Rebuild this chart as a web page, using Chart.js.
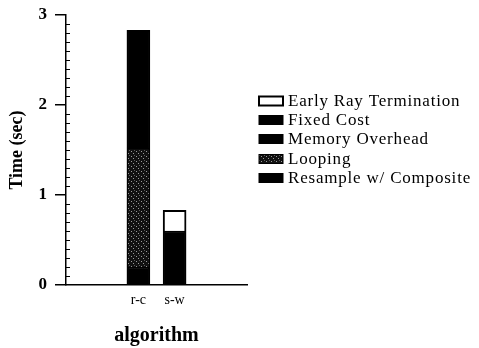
<!DOCTYPE html>
<html>
<head>
<meta charset="utf-8">
<script src="https://cdn.jsdelivr.net/npm/chart.js@4/dist/chart.umd.min.js"></script>
<style>
  html, body { margin: 0; padding: 0; background: #fff; }
  #wrap { width: 479px; height: 348px; }
</style>
</head>
<body>
<div id="wrap"><canvas id="c" width="479" height="348"></canvas></div>
<script>
// Category slots along the x axis; only two hold an algorithm.
const categories = ['', '', 'r-c', 's-w', '', ''];

// Execution time components (seconds), stacked bottom to top.
const resampleComposite = [null, null, 0.20, 0.60, null, null];
const looping           = [null, null, 1.32, 0.00, null, null];
const memoryOverhead    = [null, null, 1.31, 0.00, null, null];
const fixedCost         = [null, null, 0.00, 0.00, null, null];
const earlyRayTerm      = [null, null, 0.00, 0.23, null, null];

// Y axis tick values (major ticks labelled, minor every tenth)
const majorTicks = [0, 1, 2, 3];

const SERIF = '"Liberation Serif", "Times New Roman", serif';

// Stippled fill for the looping component
function makeStipple() {
  const p = document.createElement('canvas');
  p.width = 5; p.height = 5;
  const g = p.getContext('2d');
  g.fillStyle = '#111';
  g.fillRect(0, 0, 5, 5);
  g.fillStyle = '#9a9a9a';
  g.fillRect(1, 1, 1, 1);
  g.fillRect(3, 3, 1, 1);
  g.fillStyle = '#5a5a5a';
  g.fillRect(4, 0, 1, 1);
  return g.createPattern(p, 'repeat');
}

const ctx = document.getElementById('c').getContext('2d');
const stipple = makeStipple();

// Minor ticks drawn on the inner side of the y axis
const minorTicks = {
  id: 'minorTicks',
  afterDraw(chart) {
    const y = chart.scales.y;
    const c = chart.ctx;
    c.save();
    c.strokeStyle = '#000';
    c.lineWidth = 1;
    for (let v = 1; v < 30; v++) {
      if (v % 10 === 0) continue;
      const py = Math.round(y.getPixelForValue(v / 10)) + 0.5;
      c.beginPath();
      c.moveTo(y.right, py);
      c.lineTo(y.right + 4, py);
      c.stroke();
    }
    c.restore();
  }
};

// Legend to the right of the plot, listing the stack from top to bottom
const sideLegend = {
  id: 'sideLegend',
  afterDraw(chart) {
    const c = chart.ctx;
    const area = chart.chartArea;
    const boxX = area.right + 12, boxW = 24, boxH = 9;
    const textX = boxX + boxW + 5;
    const firstY = area.top + 86, step = 19.2;
    const sets = chart.data.datasets.slice().reverse();
    c.save();
    c.font = '17px ' + SERIF;
    c.textBaseline = 'middle';
    c.textAlign = 'left';
    if ('letterSpacing' in c) c.letterSpacing = '0.8px';
    sets.forEach((ds, i) => {
      const cy = Math.round(firstY + i * step);
      c.fillStyle = ds.backgroundColor;
      c.fillRect(boxX, cy - boxH / 2, boxW, boxH);
      c.lineWidth = ds.label === 'Early Ray Termination' ? 2 : 1;
      c.strokeStyle = '#000';
      c.strokeRect(boxX, cy - boxH / 2, boxW, boxH);
      c.fillStyle = '#000';
      c.fillText(ds.label, textX, cy + 1);
    });
    c.restore();
  }
};

const common = { borderColor: '#000', borderWidth: 1.5, borderSkipped: 'start' };

new Chart(ctx, {
  type: 'bar',
  data: {
    labels: categories,
    datasets: [
      Object.assign({ label: 'Resample w/ Composite', data: resampleComposite, backgroundColor: '#000' }, common),
      Object.assign({ label: 'Looping', data: looping, backgroundColor: stipple }, common),
      Object.assign({ label: 'Memory Overhead', data: memoryOverhead, backgroundColor: '#000' }, common),
      Object.assign({ label: 'Fixed Cost', data: fixedCost, backgroundColor: '#000' }, common),
      { label: 'Early Ray Termination', data: earlyRayTerm, backgroundColor: '#fff', borderColor: '#000', borderWidth: 2, borderSkipped: 'start' }
    ]
  },
  options: {
    responsive: false,
    animation: false,
    devicePixelRatio: 1,
    layout: { padding: { top: 15, left: 0, right: 232, bottom: 0 } },
    datasets: { bar: { barThickness: 23 } },
    plugins: {
      tooltip: { enabled: false },
      legend: { display: false }
    },
    scales: {
      x: {
        stacked: true,
        offset: false,
        grid: { display: false, drawTicks: false },
        border: { display: true, color: '#000', width: 1.5 },
        ticks: {
          color: '#000',
          padding: 7,
          maxRotation: 0,
          autoSkip: false,
          font: { family: SERIF, size: 14 }
        },
        title: {
          display: true,
          text: 'algorithm',
          color: '#000',
          padding: { top: 2, bottom: 0 },
          font: { family: SERIF, size: 20, weight: 'bold' }
        },
        afterFit(s) { s.height = 63; }
      },
      y: {
        stacked: true,
        min: 0,
        max: 3,
        grid: {
          drawOnChartArea: false,
          drawTicks: true,
          tickLength: 11,
          lineWidth: 1.5,
          color: (c) => majorTicks.includes(Math.round(c.tick.value * 10) / 10) ? '#000' : 'rgba(0,0,0,0)'
        },
        border: { display: true, color: '#000', width: 1.5 },
        ticks: {
          stepSize: 0.1,
          autoSkip: false,
          color: '#000',
          padding: 8,
          font: { family: SERIF, size: 17, weight: 'bold' },
          callback: (v) => {
            const r = Math.round(v * 10) / 10;
            return majorTicks.includes(r) ? String(r) : '';
          }
        },
        title: {
          display: true,
          text: 'Time (sec)',
          color: '#000',
          padding: { top: 7, bottom: 6 },
          font: { family: SERIF, size: 18, weight: 'bold' }
        },
        afterFit(s) {
          s.width = 66;
          s.paddingTop = 0;
          s.paddingBottom = 0;
        }
      }
    }
  },
  plugins: [minorTicks, sideLegend]
});
</script>
</body>
</html>
